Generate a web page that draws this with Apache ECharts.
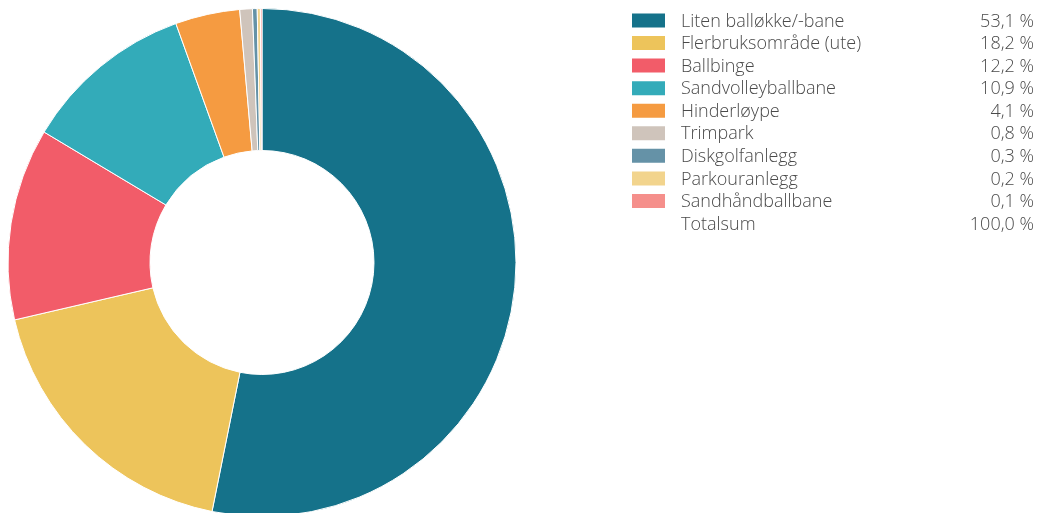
<!DOCTYPE html>
<html>
<head>
<meta charset="utf-8">
<script src="https://cdn.jsdelivr.net/npm/echarts@6/dist/echarts.min.js"></script>
<style>
html,body{margin:0;padding:0;background:#fff;}
#chart{width:1039px;height:513px;}
</style>
</head>
<body>
<div id="chart"></div>
<script>
const categories = ["Liten balløkke/-bane","Flerbruksområde (ute)","Ballbinge","Sandvolleyballbane","Hinderløype","Trimpark","Diskgolfanlegg","Parkouranlegg","Sandhåndballbane"];
const values = [53.1, 18.2, 12.2, 10.9, 4.1, 0.8, 0.3, 0.2, 0.1];
const colors = ["#15728A","#EDC45B","#F25C69","#33ABB9","#F59B41","#CFC4BB","#6592A7","#F2D48D","#F58F8B"];
const totalLabel = "Totalsum";
const totalValue = 100.0;

const fmt = v => v.toFixed(1).replace('.', ',') + ' %';
const fontFamily = '"Open Sans", "Noto Sans", sans-serif';
const textColor = '#4a4a4a';
const font = '300 18px ' + fontFamily;
const rowY = i => 20.5 + i * 22.56;

const graphics = [];
categories.forEach((c, i) => {
  graphics.push({type:'rect', shape:{x:632, y:rowY(i)-7, width:33, height:14}, style:{fill:colors[i]}, silent:true});
  graphics.push({type:'text', x:681, y:rowY(i)+1, style:{text:c, font:font, fill:textColor, textVerticalAlign:'middle'}, silent:true});
  graphics.push({type:'text', x:1034, y:rowY(i)+1, style:{text:fmt(values[i]), font:font, fill:textColor, textAlign:'right', textVerticalAlign:'middle'}, silent:true});
});
const ti = categories.length;
graphics.push({type:'text', x:681, y:rowY(ti)+1, style:{text:totalLabel, font:font, fill:textColor, textVerticalAlign:'middle'}, silent:true});
graphics.push({type:'text', x:1034, y:rowY(ti)+1, style:{text:fmt(totalValue), font:font, fill:textColor, textAlign:'right', textVerticalAlign:'middle'}, silent:true});

const chart = echarts.init(document.getElementById('chart'), null, {renderer:'canvas'});
chart.setOption({
  animation:false,
  color: colors,
  graphic: graphics,
  series:[{
    type:'pie',
    center:[262,262.5],
    radius:[112,254],
    startAngle:90,
    clockwise:true,
    label:{show:false},
    labelLine:{show:false},
    emphasis:{disabled:true},
    itemStyle:{borderColor:'#fff', borderWidth:1},
    data: categories.map((c,i)=>({name:c, value:values[i]}))
  }]
});
</script>
</body>
</html>
